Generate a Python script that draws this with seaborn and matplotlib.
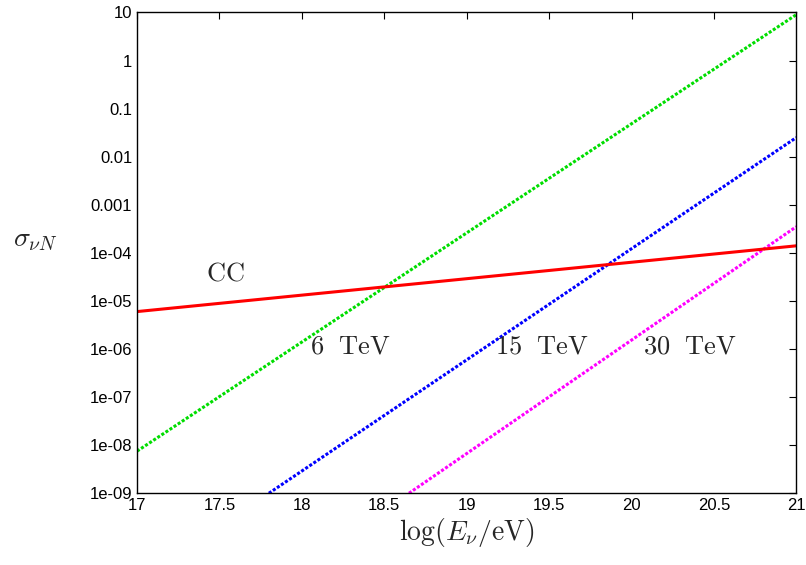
import numpy as np
import matplotlib
matplotlib.use("Agg")
import matplotlib.pyplot as plt
import seaborn as sns

# line endpoints: (log E, sigma)
cc_x = [17.0, 21.0]
cc_y = [6.0e-6, 1.4e-4]
g6_x = [17.0, 21.0]
g6_y = [7.5e-9, 9.0]
g15_x = [17.8, 21.0]
g15_y = [1.0e-9, 2.5e-2]
g30_x = [18.65, 21.0]
g30_y = [1.0e-9, 3.5e-4]

ytick_vals = [1e1, 1e0, 1e-1, 1e-2, 1e-3, 1e-4, 1e-5, 1e-6, 1e-7, 1e-8, 1e-9]
ytick_labels = ["10", "1", "0.1", "0.01", "0.001", "1e-04", "1e-05", "1e-06",
                "1e-07", "1e-08", "1e-09"]
xtick_vals = [17, 17.5, 18, 18.5, 19, 19.5, 20, 20.5, 21]
xtick_labels = ["17", "17.5", "18", "18.5", "19", "19.5", "20", "20.5", "21"]

sns.set_style("white")
plt.rcParams["font.family"] = ["Liberation Sans", "DejaVu Sans"]
plt.rcParams["mathtext.fontset"] = "cm"

fig, ax = plt.subplots(figsize=(8.06, 5.65), dpi=100)
fig.subplots_adjust(left=0.17, right=0.988, top=0.978, bottom=0.127)

sns.lineplot(x=g6_x, y=g6_y, ax=ax, color="#00dd00", lw=2.2, linestyle=(0, (1, 0.6)))
sns.lineplot(x=g15_x, y=g15_y, ax=ax, color="#0000ff", lw=2.2, linestyle=(0, (1, 0.6)))
sns.lineplot(x=g30_x, y=g30_y, ax=ax, color="#ff00ff", lw=2.2, linestyle=(0, (1, 0.6)))
sns.lineplot(x=cc_x, y=cc_y, ax=ax, color="#ff0000", lw=2.2)

ax.set_yscale("log")
ax.set_xlim(17, 21)
ax.set_ylim(1e-9, 10)
ax.set_yticks(ytick_vals)
ax.set_yticklabels(ytick_labels)
ax.set_xticks(xtick_vals)
ax.set_xticklabels(xtick_labels)
ax.minorticks_off()
ax.tick_params(direction="in", length=5, labelsize=12, top=True, right=True,
               colors="black")
for s in ax.spines.values():
    s.set_color("black")
    s.set_linewidth(1)

ax.set_xlabel(r"$\log(E_\nu/\mathrm{eV})$", fontsize=20, labelpad=2)
ax.set_ylabel(r"$\sigma_{\nu N}$", fontsize=20, rotation=0)
ax.yaxis.set_label_coords(-0.155, 0.5)

tk = dict(fontsize=19)
ax.text(17.42, 2.6e-5, r"$\mathrm{CC}$", **tk)
ax.text(18.05, 8e-7, r"$\mathrm{6\ \ TeV}$", **tk)
ax.text(19.17, 8e-7, r"$\mathrm{15\ \ TeV}$", **tk)
ax.text(20.07, 8e-7, r"$\mathrm{30\ \ TeV}$", **tk)

fig.savefig("out.png", dpi=100)
